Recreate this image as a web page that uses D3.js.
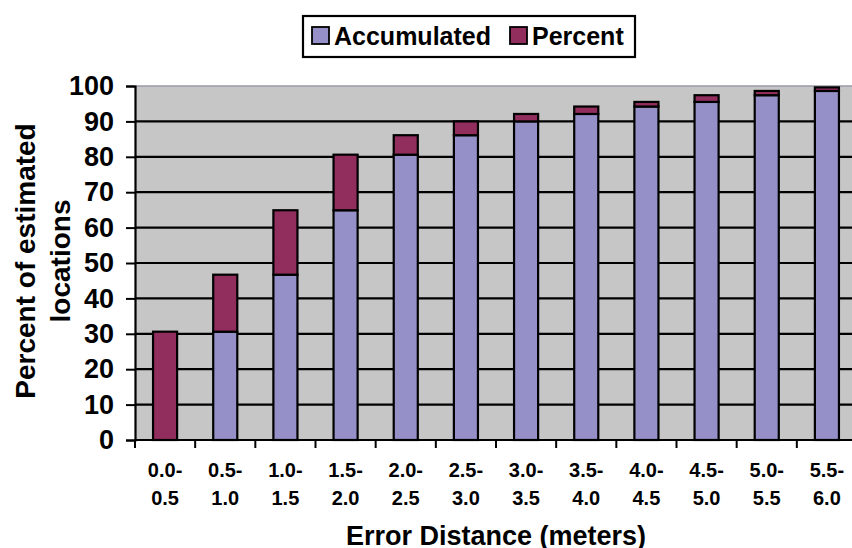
<!DOCTYPE html>
<html>
<head>
  <meta charset="utf-8">
  <script src="https://d3js.org/d3.v7.min.js"></script>
  <style>
    body { margin: 0; background: #fff; }
    text { font-family: "Liberation Sans", Arial, sans-serif; font-weight: bold; fill: #000; }
  </style>
</head>
<body>
  <div id="my_dataviz"></div>
<script>

  // categories (two-line labels) and the two stacked series
  var catTop    = ["0.0-", "0.5-", "1.0-", "1.5-", "2.0-", "2.5-", "3.0-", "3.5-", "4.0-", "4.5-", "5.0-", "5.5-"];
  var catBottom = ["0.5", "1.0", "1.5", "2.0", "2.5", "3.0", "3.5", "4.0", "4.5", "5.0", "5.5", "6.0"];
  var accumulated = [0, 30.6, 46.7, 64.9, 80.6, 86.1, 90.0, 92.1, 94.2, 95.5, 97.4, 98.6];
  var percent     = [30.6, 16.1, 18.2, 15.7, 5.5, 3.9, 2.1, 2.1, 1.3, 1.9, 1.2, 1.0];
  var yTicks = [0, 10, 20, 30, 40, 50, 60, 70, 80, 90, 100];

  var W = 852, H = 548;
  var plot = {left: 135, right: 857, top: 86, bottom: 440};

  var svg = d3.select("#my_dataviz")
    .append("svg")
      .attr("width", W)
      .attr("height", H);

  var cats = catTop.map(function(d, i) { return i; });

  var x = d3.scaleBand()
    .domain(cats)
    .range([plot.left, plot.right])
    .paddingInner(0.6)
    .paddingOuter(0.3);

  var y = d3.scaleLinear()
    .domain([0, 100])
    .range([plot.bottom, plot.top]);

  // plot background
  svg.append("rect")
    .attr("x", plot.left).attr("y", y(100))
    .attr("width", plot.right - plot.left).attr("height", y(0) - y(100))
    .attr("fill", "#c6c6c6");

  // gridlines
  svg.append("g")
    .selectAll("line")
    .data(yTicks.filter(function(d) { return d > 0; }))
    .enter().append("line")
      .attr("x1", plot.left).attr("x2", plot.right)
      .attr("y1", function(d) { return y(d); })
      .attr("y2", function(d) { return y(d); })
      .attr("stroke", function(d) { return d === 100 ? "#9a9aa8" : "#000"; })
      .attr("stroke-width", function(d) { return d === 100 ? 1.5 : 2.2; });

  // stacked bars
  var data = cats.map(function(i) {
    return {i: i, acc: accumulated[i], pct: percent[i]};
  });

  var bars = svg.append("g");
  bars.selectAll(".acc")
    .data(data.filter(function(d) { return d.acc > 0; }))
    .enter().append("rect")
      .attr("class", "acc")
      .attr("x", function(d) { return x(d.i); })
      .attr("width", x.bandwidth())
      .attr("y", function(d) { return y(d.acc); })
      .attr("height", function(d) { return y(0) - y(d.acc); })
      .attr("fill", "#9591c8")
      .attr("stroke", "#000")
      .attr("stroke-width", 2.2);

  bars.selectAll(".pct")
    .data(data)
    .enter().append("rect")
      .attr("class", "pct")
      .attr("x", function(d) { return x(d.i); })
      .attr("width", x.bandwidth())
      .attr("y", function(d) { return y(d.acc + d.pct); })
      .attr("height", function(d) { return y(d.acc) - y(d.acc + d.pct); })
      .attr("fill", "#922e5e")
      .attr("stroke", "#000")
      .attr("stroke-width", 2.2);

  // y axis
  var yAxis = svg.append("g")
    .attr("transform", "translate(" + plot.left + ",0)")
    .call(d3.axisLeft(y).tickValues(yTicks).tickSize(9).tickPadding(12));
  yAxis.select(".domain").attr("stroke", "#000").attr("stroke-width", 2.2);
  yAxis.selectAll(".tick line").attr("stroke", "#000").attr("stroke-width", 2);
  yAxis.selectAll(".tick text")
    .attr("font-size", "27px")
    .attr("font-family", "'Liberation Sans', Arial, sans-serif")
    .attr("font-weight", "bold")
    .attr("fill", "#000");

  // x axis line and ticks at category boundaries
  svg.append("line")
    .attr("x1", plot.left).attr("x2", plot.right)
    .attr("y1", y(0)).attr("y2", y(0))
    .attr("stroke", "#000").attr("stroke-width", 2.2);

  var step = x.step();
  svg.append("g")
    .selectAll("line")
    .data(cats)
    .enter().append("line")
      .attr("x1", function(d) { return x(d) - step * 0.3; })
      .attr("x2", function(d) { return x(d) - step * 0.3; })
      .attr("y1", y(0)).attr("y2", y(0) + 8)
      .attr("stroke", "#000").attr("stroke-width", 2);

  // x tick labels (two lines)
  var xl = svg.append("g").selectAll("text")
    .data(cats)
    .enter().append("text")
      .attr("text-anchor", "middle")
      .attr("font-size", "20px")
      .attr("x", function(d) { return x(d) + x.bandwidth() / 2; });
  xl.append("tspan").attr("y", 477).attr("x", function(d) { return x(d) + x.bandwidth() / 2; })
    .text(function(d) { return catTop[d]; });
  xl.append("tspan").attr("y", 505).attr("x", function(d) { return x(d) + x.bandwidth() / 2; })
    .text(function(d) { return catBottom[d]; });

  // axis titles
  svg.append("text")
    .attr("text-anchor", "middle")
    .attr("font-size", "27px")
    .attr("x", (plot.left + plot.right) / 2)
    .attr("y", 545)
    .text("Error Distance (meters)");

  var yt = svg.append("text")
    .attr("text-anchor", "middle")
    .attr("font-size", "28px")
    .attr("transform", "translate(0,261) rotate(-90)");
  yt.append("tspan").attr("x", 0).attr("y", 35).text("Percent of estimated");
  yt.append("tspan").attr("x", 0).attr("y", 70).text("locations");

  // legend
  var lg = svg.append("g");
  lg.append("rect")
    .attr("x", 303).attr("y", 16).attr("width", 332).attr("height", 41)
    .attr("fill", "#fff").attr("stroke", "#000").attr("stroke-width", 2.2);
  var items = [{name: "Accumulated", color: "#9591c8", x: 312}, {name: "Percent", color: "#922e5e", x: 510}];
  items.forEach(function(it) {
    lg.append("rect")
      .attr("x", it.x).attr("y", 27).attr("width", 17).attr("height", 17)
      .attr("fill", it.color).attr("stroke", "#000").attr("stroke-width", 1.8);
    lg.append("text")
      .attr("x", it.x + 22).attr("y", 45)
      .attr("font-size", "25px")
      .text(it.name);
  });

</script>
</body>
</html>
